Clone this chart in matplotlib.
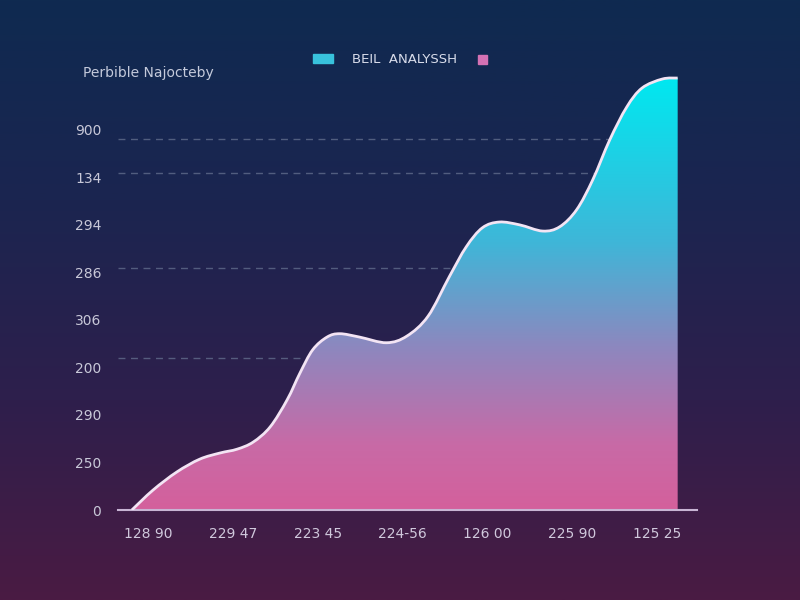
import matplotlib
matplotlib.use('Agg')
import matplotlib.pyplot as plt
from matplotlib.colors import LinearSegmentedColormap
from matplotlib.patches import PathPatch, Rectangle
from matplotlib.path import Path
import numpy as np

plt.rc('font', family='DejaVu Sans', size=10)

# values
x_vals = [-0.19, 0.06, 0.34, 0.61, 0.85, 1.05, 1.24, 1.44, 1.64, 1.79, 1.94,
          2.11, 2.26, 2.49, 2.81, 3.05, 3.30, 3.55, 3.75, 3.94, 4.14,
          4.38, 4.65, 4.85, 5.05, 5.24, 5.44, 5.64, 5.82, 6.06, 6.24]
y_vals = [0.0, 0.42, 0.80, 1.07, 1.20, 1.28, 1.43, 1.75, 2.32, 2.88, 3.37,
          3.64, 3.71, 3.64, 3.52, 3.66, 4.08, 4.91, 5.54, 5.94, 6.06,
          6.00, 5.87, 5.96, 6.32, 6.95, 7.79, 8.48, 8.88, 9.07, 9.09]
x_ticklabels = ['128 90', '229 47', '223 45', '224-56', '126 00', '225 90', '125 25']
y_ticklabels = ['0', '250', '290', '200', '306', '286', '294', '134', '900']
grid_levels = [3.2, 5.1, 7.1, 7.8]


def smooth_path(xs, ys, close=False):
    # Catmull-Rom through the points, drawn as cubic Bezier segments
    pts = np.column_stack([xs, ys])
    verts, codes = [pts[0]], [Path.MOVETO]
    n = len(pts)
    for i in range(n - 1):
        p0 = pts[max(i - 1, 0)]
        p1, p2 = pts[i], pts[i + 1]
        p3 = pts[min(i + 2, n - 1)]
        c1 = p1 + (p2 - p0) / 6
        c2 = p2 - (p3 - p1) / 6
        verts += [c1, c2, p2]
        codes += [Path.CURVE4] * 3
    if close:
        verts += [(xs[-1], 0), (xs[0], 0), pts[0]]
        codes += [Path.LINETO, Path.LINETO, Path.CLOSEPOLY]
    return Path(verts, codes)


fig = plt.figure(figsize=(8, 6), dpi=100)

# background gradient
bg = fig.add_axes([0, 0, 1, 1], zorder=-10)
bg_cmap = LinearSegmentedColormap.from_list(
    'bg', ['#0f2a50', '#1b2550', '#2e1f4c', '#4a1b43'])
grad = np.linspace(0, 1, 256).reshape(-1, 1)
bg.imshow(grad, aspect='auto', cmap=bg_cmap, extent=[0, 1, 0, 1])
bg.axis('off')

ax = fig.add_axes([0.1475, 0.15, 0.724, 0.75])
ax.set_facecolor('none')
xmin, xmax = -0.353, 6.47
ymax = 9.47
ax.set_xlim(xmin, xmax)
ax.set_ylim(0, ymax)

ax.hlines(grid_levels, xmin, x_vals[-1], color='#65718f', lw=1,
          linestyles=(0, (5, 4)), alpha=0.75, zorder=1)

# gradient fill under curve
area = PathPatch(smooth_path(x_vals, y_vals, close=True), facecolor='none',
                 edgecolor='none')
ax.add_patch(area)
fill_cmap = LinearSegmentedColormap.from_list(
    'fill', [(0.0, '#d4609c'), (0.15, '#c86aa6'), (0.38, '#8c88bf'),
             (0.62, '#3fb6d8'), (1.0, '#00e8f0')])
grad2 = np.linspace(0, 1, 256).reshape(-1, 1)
im = ax.imshow(grad2, aspect='auto', cmap=fill_cmap, origin='lower',
               extent=[xmin, xmax, 0, max(y_vals)], zorder=2)
im.set_clip_path(area)

ax.add_patch(PathPatch(smooth_path(x_vals, y_vals), facecolor='none',
                       edgecolor='#f3e4f4', lw=2, zorder=3))

# baseline
for side in ['top', 'right', 'left']:
    ax.spines[side].set_visible(False)
ax.spines['bottom'].set_color('#c8b4d4')
ax.spines['bottom'].set_linewidth(1.5)

ax.set_xticks(range(len(x_ticklabels)))
ax.set_xticklabels(x_ticklabels, color='#d0c8dc', fontsize=10)
ax.set_yticks(range(len(y_ticklabels)))
ax.set_yticklabels(y_ticklabels, color='#c8c8d8', fontsize=10)
ax.tick_params(axis='both', length=0)
ax.tick_params(axis='x', pad=12)
ax.tick_params(axis='y', pad=12)

# title-like label and legend
fig.text(0.104, 0.878, 'Perbible Najocteby', color='#c4cadb', fontsize=10,
         ha='left', va='center')
fig.patches.append(Rectangle((0.391, 0.895), 0.025, 0.015,
                             transform=fig.transFigure, color='#38c2dc'))
fig.text(0.44, 0.901, 'BEIL  ANALYSSH', color='#d8dcea', fontsize=9.5,
         ha='left', va='center')
fig.patches.append(Rectangle((0.598, 0.893), 0.011, 0.0155,
                             transform=fig.transFigure, color='#d472b4'))

fig.savefig('out.png', dpi=100)
